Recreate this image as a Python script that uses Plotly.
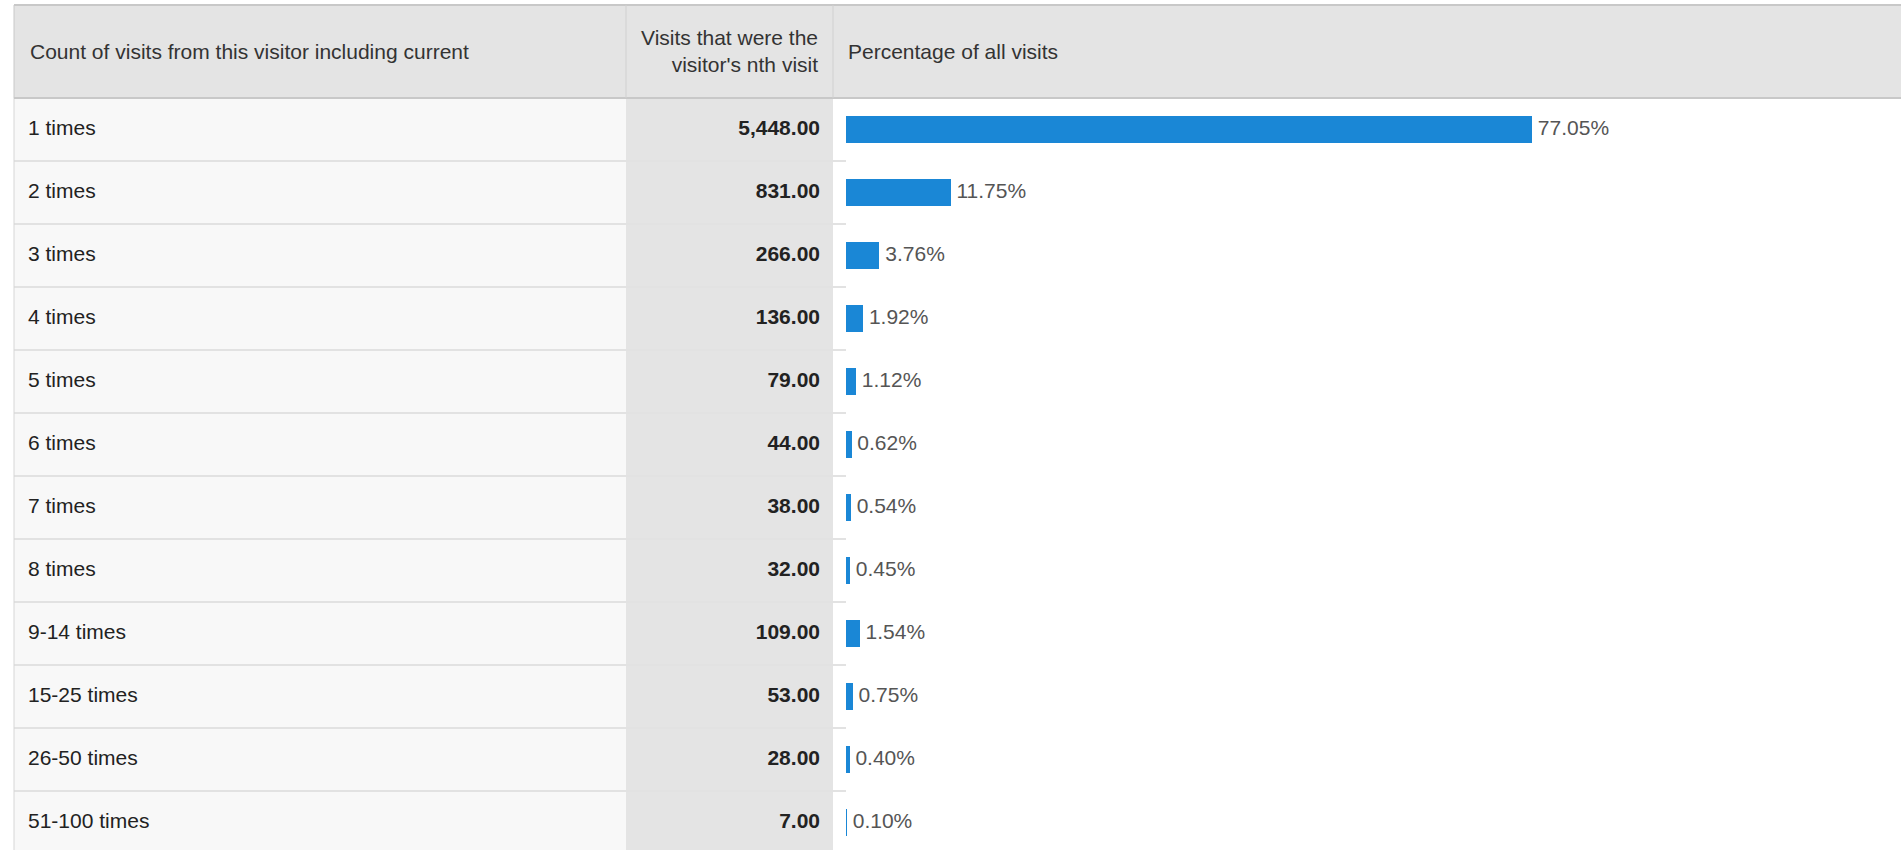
import plotly.graph_objects as go

# visit-count buckets
labels = ["1 times", "2 times", "3 times", "4 times", "5 times", "6 times",
          "7 times", "8 times", "9-14 times", "15-25 times", "26-50 times", "51-100 times"]
visits = [5448, 831, 266, 136, 79, 44, 38, 32, 109, 53, 28, 7]
pct = [77.05, 11.75, 3.76, 1.92, 1.12, 0.62, 0.54, 0.45, 1.54, 0.75, 0.40, 0.10]

col_headers = ["Count of visits from this visitor including current",
               "Visits that were the<br>visitor's nth visit",
               "Percentage of all visits"]

W, H = 1901, 850
TOP = 98          # header bottom, px
ROW = 63          # row height, px
FONT = "Liberation Sans, Arial, sans-serif"

fig = go.Figure()

# row labels
fig.add_trace(go.Scatter(
    x=[28] * len(labels), y=labels, mode="text", text=labels,
    textposition="middle right", textfont=dict(size=21, color="#222", family=FONT),
    hoverinfo="skip", showlegend=False, cliponaxis=False))

# visit counts
fig.add_trace(go.Scatter(
    x=[820] * len(labels), y=labels, mode="text",
    text=[f"<b>{v:,.2f}</b>" for v in visits],
    textposition="middle left", textfont=dict(size=21, color="#222", family=FONT),
    hoverinfo="skip", showlegend=False, cliponaxis=False))

# percentage bars
fig.add_trace(go.Bar(
    x=pct, y=labels, orientation="h", xaxis="x2", width=0.43,
    marker=dict(color="#1a87d6", line=dict(width=0)),
    hovertemplate="%{y}: %{x:.2f}%<extra></extra>", showlegend=False))

fig.add_trace(go.Scatter(
    x=pct, y=labels, xaxis="x2", mode="text",
    text=[f" {p:.2f}%" for p in pct],
    textposition="middle right", textfont=dict(size=21, color="#555", family=FONT),
    hoverinfo="skip", showlegend=False, cliponaxis=False))

px_per_pct = (1532 - 846) / 77.05
plot_h = H - TOP
hdr_top = 1 + (TOP - 5) / plot_h

shapes = [
    # column backgrounds
    dict(type="rect", xref="x", yref="paper", x0=14, x1=626, y0=0, y1=1,
         fillcolor="#f8f8f8", line_width=0, layer="below"),
    dict(type="rect", xref="x", yref="paper", x0=626, x1=833, y0=0, y1=1,
         fillcolor="#e4e4e4", line_width=0, layer="below"),
    dict(type="line", xref="x", yref="paper", x0=14, x1=14, y0=0, y1=1,
         line=dict(color="#d6d6d6", width=1)),
    # header
    dict(type="rect", xref="x", yref="paper", x0=14, x1=W, y0=1, y1=hdr_top,
         fillcolor="#e4e4e4", line_width=0, layer="below"),
    dict(type="line", xref="x", yref="paper", x0=14, x1=W, y0=hdr_top, y1=hdr_top,
         line=dict(color="#c8c8c8", width=2)),
    dict(type="line", xref="x", yref="paper", x0=14, x1=W, y0=1, y1=1,
         line=dict(color="#c8c8c8", width=2)),
    dict(type="line", xref="x", yref="paper", x0=14, x1=14, y0=1, y1=hdr_top,
         line=dict(color="#c8c8c8", width=1)),
]
for xv in [626, 833]:
    shapes.append(dict(type="line", xref="x", yref="paper", x0=xv, x1=xv, y0=1,
                       y1=hdr_top, line=dict(color="#d0d0d0", width=1)))
# row separators
for i in range(len(labels) - 1):
    shapes.append(dict(type="line", xref="x", yref="y", x0=14, x1=W, y0=i + 0.5, y1=i + 0.5,
                       line=dict(color="#e2e2e2", width=2), layer="below"))

hdr_y = 1 + (TOP - 5) / 2 / plot_h
annotations = [
    dict(text=col_headers[0], xref="x", yref="paper", x=28, y=hdr_y, xanchor="left",
         yanchor="middle", showarrow=False, font=dict(size=21, color="#333", family=FONT)),
    dict(text=col_headers[1], xref="x", yref="paper", x=820, y=hdr_y, xanchor="right",
         yanchor="middle", align="right", showarrow=False,
         font=dict(size=21, color="#333", family=FONT)),
    dict(text=col_headers[2], xref="x", yref="paper", x=846, y=hdr_y, xanchor="left",
         yanchor="middle", showarrow=False, font=dict(size=21, color="#333", family=FONT)),
]

fig.update_layout(
    width=W, height=H,
    margin=dict(l=0, r=0, t=TOP, b=0),
    paper_bgcolor="white", plot_bgcolor="white",
    font=dict(family=FONT),
    xaxis=dict(range=[0, W], visible=False, fixedrange=True),
    xaxis2=dict(domain=[846 / W, 1], range=[0, (W - 846) / px_per_pct], visible=False,
                anchor="y", fixedrange=True),
    yaxis=dict(type="category", categoryorder="array", categoryarray=labels,
               range=[-0.5 + plot_h / ROW, -0.5], visible=False, fixedrange=True),
    shapes=shapes,
    annotations=annotations,
    bargap=0,
)

fig.write_html("out.html", config={"displayModeBar": False},
               post_script="document.body.style.margin='0';")
